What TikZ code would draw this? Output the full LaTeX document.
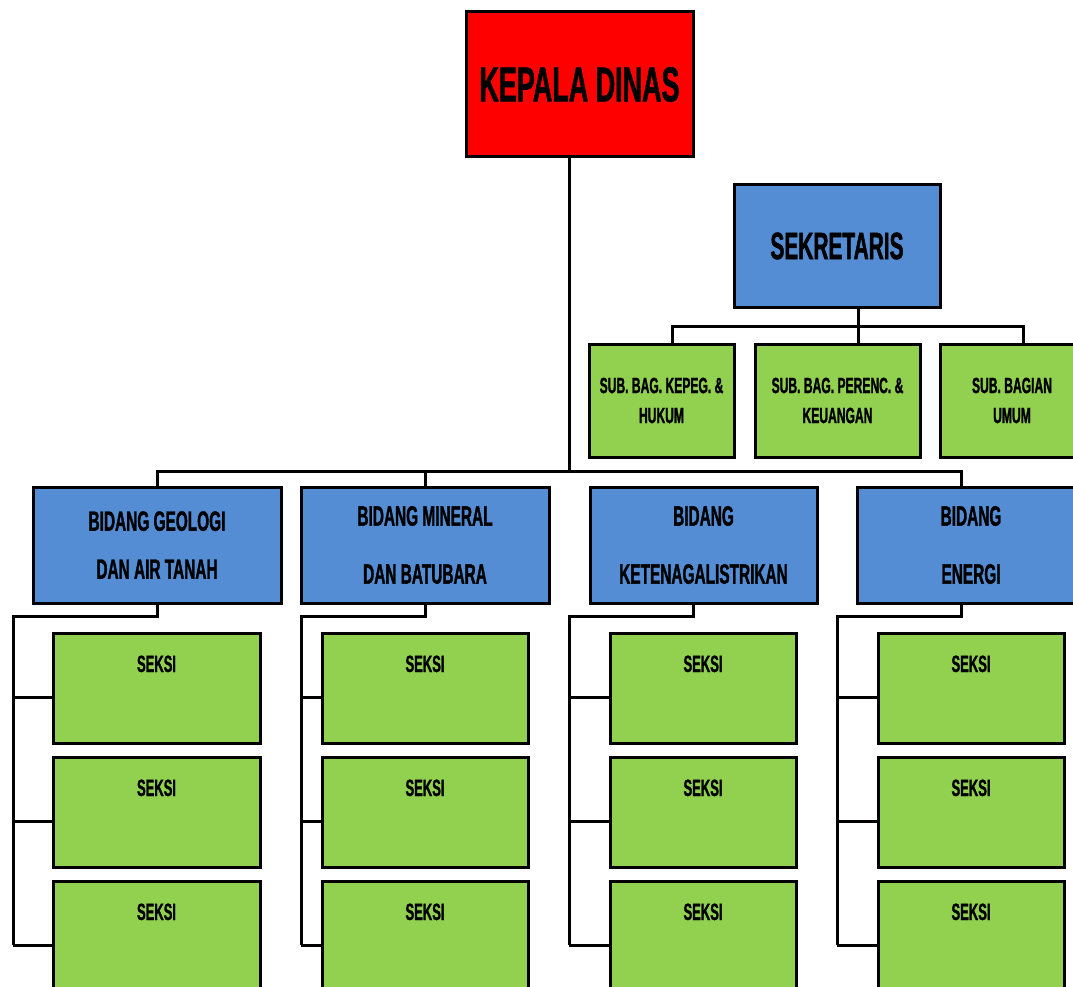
\documentclass[tikz,border=0pt]{standalone}
\usepackage{fontspec}
\setmainfont{Liberation Sans}[FakeStretch=0.55, BoldFeatures={FakeBold=1.2}]
\usetikzlibrary{positioning}
\definecolor{kepalared}{RGB}{255,0,0}
\definecolor{bidangblue}{RGB}{84,141,212}
\definecolor{seksigreen}{RGB}{146,208,80}
\tikzset{
    orgbox/.style = {draw, line width=3pt, inner sep=0pt, outer sep=0pt, align=center},
    kepalabox/.style = {orgbox, fill=kepalared, minimum width=227, minimum height=145,
        font=\bfseries\fontsize{49}{50}\selectfont},
    sekbox/.style = {orgbox, fill=bidangblue, minimum width=206, minimum height=122,
        font=\bfseries\fontsize{38}{40}\selectfont},
    subbox/.style = {orgbox, fill=seksigreen, minimum height=113,
        font=\bfseries\fontsize{22}{30}\selectfont},
    bidangbox/.style = {orgbox, fill=bidangblue, minimum height=116,
        font=\bfseries\fontsize{28}{58}\selectfont},
    seksibox/.style = {orgbox, fill=seksigreen, anchor=north, text height=39pt, text depth=71pt,
        font=\bfseries\fontsize{23.6}{26}\selectfont},
    link/.style = {line width=3pt, line join=miter}
}

\begin{document}
\begin{tikzpicture}[x=1pt,y=-1pt]
    \useasboundingbox (0,0) rectangle (1073,987);
    \clip (0,0) rectangle (1073,987);

    % top
    \node[kepalabox] (kepala) at (579.5,84.5) {KEPALA DINAS};
    \node[sekbox] (sekretaris) at (837,246) {SEKRETARIS};

    \node[subbox, minimum width=145] (sub1) at (661.5,400.5) {SUB. BAG. KEPEG. \&\\HUKUM};
    \node[subbox, minimum width=165] (sub2) at (837.5,400.5) {SUB. BAG. PERENC. \&\\KEUANGAN};
    \node[subbox, minimum width=144] (sub3) at (1012,400.5) {SUB. BAGIAN\\UMUM};

    \coordinate (subbar) at (858,326);
    \coordinate (subbar1) at (672,326);
    \coordinate (subbar3) at (1023,326);
    \draw[link] (sekretaris.south -| subbar) -- (subbar |- sub2.north);
    \draw[link] (sub1.north -| subbar1) -- (subbar1) -- (subbar3) -- (subbar3 |- sub3.north);

    % bidang
    \node[bidangbox, minimum width=248] (bid1) at (157,545) {BIDANG GEOLOGI\\[-10pt]DAN AIR TANAH};
    \node[bidangbox, minimum width=248] (bid2) at (425,545) {BIDANG MINERAL\\DAN BATUBARA};
    \node[bidangbox, minimum width=227] (bid3) at (703.5,545) {BIDANG\\KETENAGALISTRIKAN};
    \node[bidangbox, minimum width=228] (bid4) at (971,545) {BIDANG\\ENERGI};

    \coordinate (trunk) at (569,471);
    \coordinate (bar1) at (157,471);
    \coordinate (bar2) at (425,471);
    \coordinate (bar4) at (961,471);
    \draw[link] (kepala.south -| trunk) -- (trunk);
    \draw[link] (bid1.north) -- (bar1) -- (bar4) -- (bar4 |- bid4.north);
    \draw[link] (bar2) -- (bid2.north);

    % seksi
    \foreach \c/\sx/\sw/\dx/\vx in {1/156.5/207/157/13, 2/425/206/425/301,
                                    3/703/186/693/569, 4/971/186/961/837} {
        \node[seksibox, minimum width=\sw] (sek\c1) at (\sx,633) {SEKSI};
        \node[seksibox, minimum width=\sw, below=14pt of sek\c1] (sek\c2) {SEKSI};
        \node[seksibox, minimum width=\sw, below=14pt of sek\c2] (sek\c3) {SEKSI};
        \coordinate (d\c) at (\dx,616);
        \coordinate (v\c) at (\vx,616);
        \foreach \r in {1,2,3}
            \coordinate (t\c\r) at ([yshift=-64pt]sek\c\r.north west);
        \draw[link] (bid\c.south -| d\c) -- (d\c) -- (v\c) -- (t\c3 -| v\c);
        \foreach \r in {1,2,3}
            \draw[link] (t\c\r) -- (t\c\r -| v\c);
    }
\end{tikzpicture}
\end{document}
